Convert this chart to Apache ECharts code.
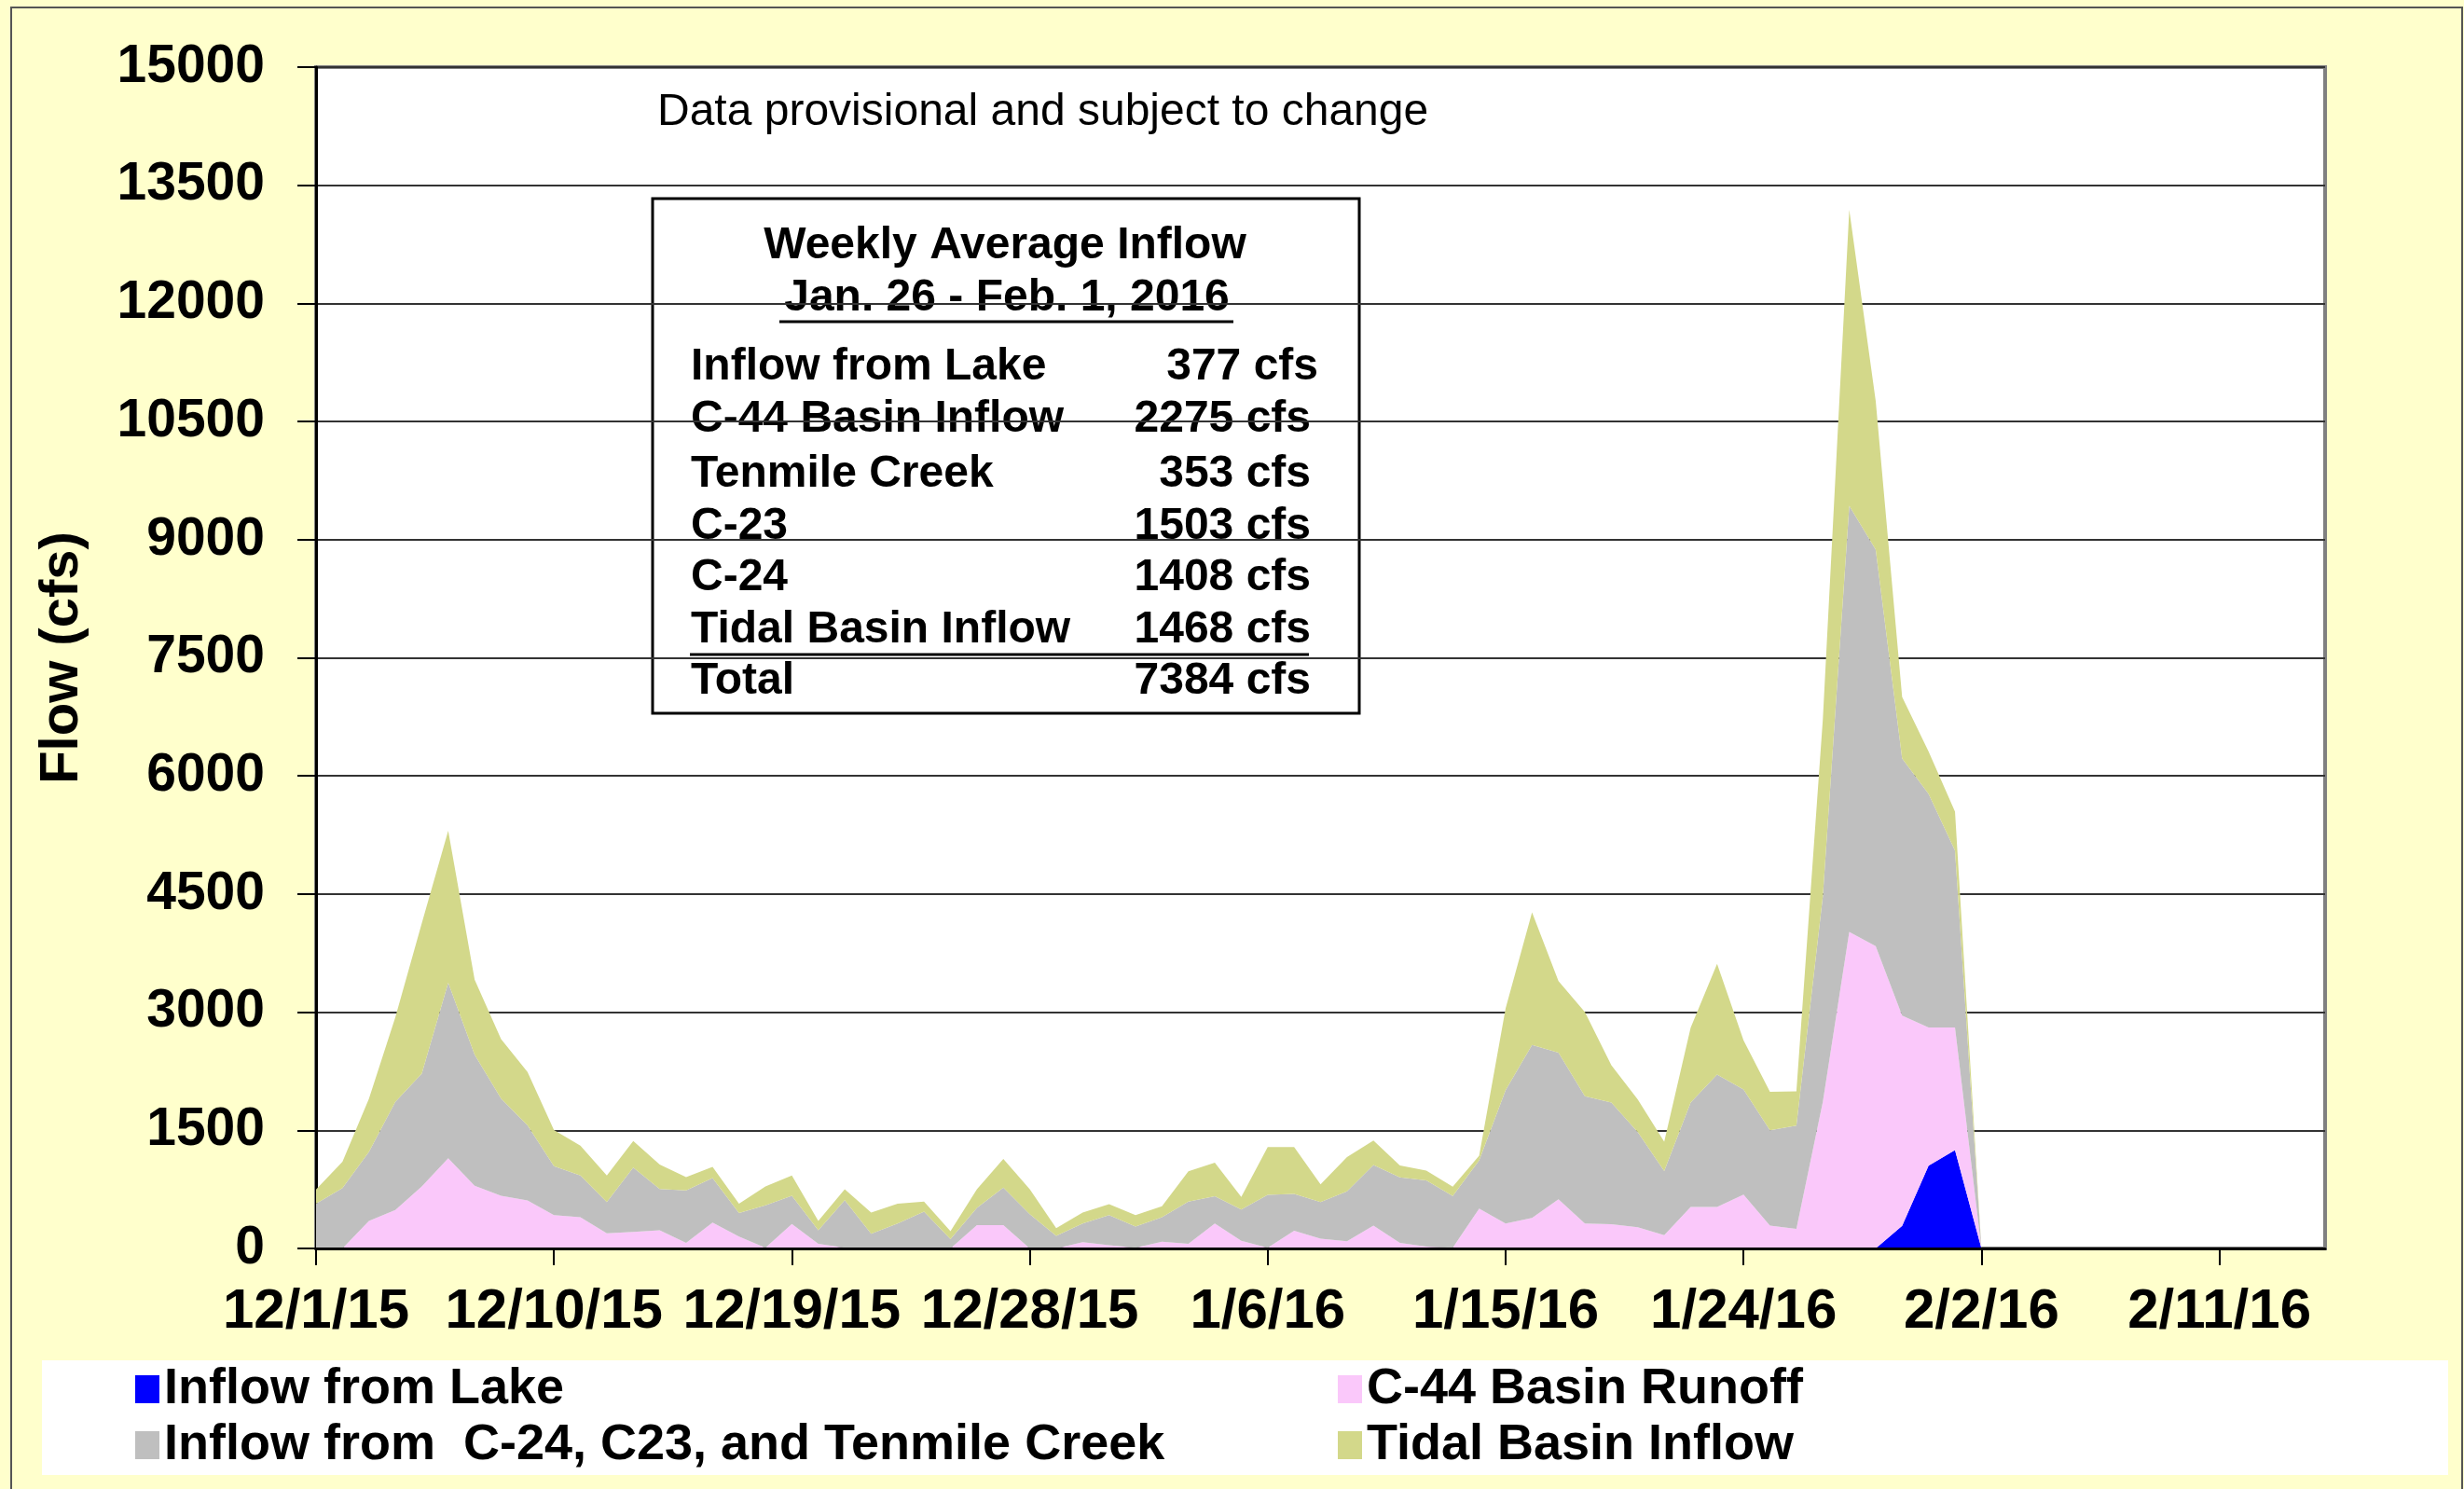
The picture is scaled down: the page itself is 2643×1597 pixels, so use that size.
<!DOCTYPE html>
<html>
<head>
<meta charset="utf-8">
<script src="https://cdn.jsdelivr.net/npm/echarts@6/dist/echarts.min.js"></script>
<style>
html,body{margin:0;padding:0;background:#FFFFCC;}
#chart{width:2643px;height:1597px;}
</style>
</head>
<body>
<div id="chart"></div>
<script>
// ---- data (daily values, 12/1/15 .. 2/2/16) ----
const startDate = '2015-12-01';
const axisDays = 77; // 12/1/15 .. 2/15/16
const seriesNames = ['Inflow from Lake', 'C-44 Basin Runoff', 'Inflow from  C-24, C23, and Tenmile Creek', 'Tidal Basin Inflow'];
const lake = [0,0,0,0,0,0,0,0,0,0, 0,0,0,0,0,0,0,0,0,0, 0,0,0,0,0,0,0,0,0,0, 0,0,0,0,0,0,0,0,0,0, 0,0,0,0,0,0,0,0,0,0, 0,0,0,0,0,0,0,0,0,0, 288,1052,1250,0];
const c44 = [0,0,350,489,788,1146,796,668,609,422, 398,191,211,231,72,330,151,10,310,60, 10,0,0,0,0,297,297,0,0,80, 40,10,87,60,317,99,10,226,125,91, 289,71,24,10,507,317,388,625,317,309, 269,170,526,526,685,289,250,1861,4019,3839, 2670,1753,1555,0];
const basins = [569,768,875,1373,1432,2228,1663,1234,955,624, 529,398,816,525,664,565,299,539,358,170, 604,186,317,468,119,218,476,436,159,237, 384,267,309,534,345,396,672,468,465,633, 772,831,839,655,613,1694,2197,1861,1615,1543, 1207,812,1326,1683,1334,1211,1310,2607,5411,5034, 3263,2967,2247,0];
const tidal = [181,332,675,1075,1910,1930,955,756,676,458, 378,338,338,310,171,140,119,239,259,120, 139,270,250,126,99,238,364,317,99,139, 139,147,139,385,428,159,606,594,225,436, 308,151,127,119,59,1039,1682,910,1068,475, 416,375,950,1405,625,490,436,2248,3758,1888, 782,539,495,0];
const colors = ['#0000FF', '#FAC8FA', '#BFBFBF', '#D3D88A'];
const tableRows = [
  ['Inflow from Lake', '377 cfs'],
  ['C-44 Basin Inflow', '2275 cfs'],
  ['Tenmile Creek', '353 cfs'],
  ['C-23', '1503 cfs'],
  ['C-24', '1408 cfs'],
  ['Tidal Basin Inflow', '1468 cfs'],
  ['Total', '7384 cfs']
];

// categories: one per day
const categories = [];
(function(){
  const d0 = new Date(startDate + 'T12:00:00Z');
  for (let i = 0; i < axisDays; i++) {
    const d = new Date(d0.getTime() + i * 86400000);
    categories.push((d.getUTCMonth() + 1) + '/' + d.getUTCDate() + '/' + String(d.getUTCFullYear()).slice(2));
  }
})();

const FONT = "'Liberation Sans', Arial, Helvetica, sans-serif";
const chart = echarts.init(document.getElementById('chart'), null, {renderer: 'canvas'});

const allSeries = [lake, c44, basins, tidal].map((arr, i) => ({
  name: seriesNames[i],
  type: 'line',
  stack: 'total',
  data: arr,
  symbol: 'none',
  showSymbol: false,
  lineStyle: {width: 0},
  itemStyle: {color: colors[i]},
  areaStyle: {color: colors[i], opacity: 1},
  z: 2
}));

const rowY = [394, 450, 509, 565, 620, 676, 731];
const tableGraphics = [];
tableRows.forEach((r, i) => {
  tableGraphics.push({type: 'text', x: 741, y: rowY[i], style: {text: r[0], font: 'bold 48px ' + FONT, fill: '#000', textAlign: 'left', textVerticalAlign: 'middle'}});
  tableGraphics.push({type: 'text', x: i === 0 ? 1414 : 1406, y: rowY[i], style: {text: r[1], font: 'bold 48px ' + FONT, fill: '#000', textAlign: 'right', textVerticalAlign: 'middle'}});
});

const option = {
  animation: false,
  backgroundColor: '#FFFFCC',
  grid: {left: 339, top: 72, right: 149, bottom: 258, show: true, backgroundColor: '#FFFFFF', borderColor: '#808080', borderWidth: 4},
  legend: [
    {orient: 'vertical', left: 140, top: 1458, itemWidth: 26, itemHeight: 30, itemGap: 6, icon: 'rect',
     data: [seriesNames[0], seriesNames[2]],
     textStyle: {fontSize: 54, fontWeight: 'bold', color: '#000', fontFamily: FONT, lineHeight: 54}},
    {orient: 'vertical', left: 1430, top: 1458, itemWidth: 26, itemHeight: 30, itemGap: 6, icon: 'rect',
     data: [seriesNames[1], seriesNames[3]],
     textStyle: {fontSize: 54, fontWeight: 'bold', color: '#000', fontFamily: FONT, lineHeight: 54}}
  ],
  xAxis: {
    type: 'category',
    data: categories,
    boundaryGap: false,
    axisLine: {show: true, lineStyle: {color: '#000', width: 3}},
    axisTick: {show: true, interval: 8, length: 18, lineStyle: {color: '#000', width: 2}},
    axisLabel: {interval: 8, margin: 38, fontSize: 60, fontWeight: 'bold', color: '#000', fontFamily: FONT},
    splitLine: {show: false},
    z: 5
  },
  yAxis: {
    type: 'value',
    min: 0, max: 15000, interval: 1500,
    name: 'Flow (cfs)',
    nameLocation: 'middle',
    nameGap: 243,
    nameTextStyle: {fontSize: 58, fontWeight: 'bold', color: '#000', fontFamily: FONT},
    axisLine: {show: true, lineStyle: {color: '#000', width: 3}},
    axisTick: {show: true, length: 20, lineStyle: {color: '#000', width: 2}},
    axisLabel: {margin: 55, fontSize: 57, fontWeight: 'bold', color: '#000', fontFamily: FONT, formatter: v => String(v)},
    splitLine: {show: true, lineStyle: {color: '#333', width: 2}},
    z: 1
  },
  series: allSeries,
  graphic: [
    {type: 'rect', z: -10, shape: {x: 12, y: 8, width: 2629, height: 1600}, style: {fill: 'none', stroke: '#555', lineWidth: 2}},
    {type: 'rect', z: -5, shape: {x: 45, y: 1459, width: 2581, height: 123}, style: {fill: '#FFFFFF'}},
    {type: 'text', z: 10, x: 705, y: 121, style: {text: 'Data provisional and subject to change', font: '48px ' + FONT, fill: '#000', textAlign: 'left', textVerticalAlign: 'middle'}},
    {type: 'group', z: 10, children: [
      {type: 'rect', shape: {x: 700, y: 213, width: 758, height: 552}, style: {fill: '#FFFFFF', stroke: '#000', lineWidth: 3}},
      {type: 'text', x: 1078, y: 264, style: {text: 'Weekly Average Inflow', font: 'bold 48px ' + FONT, fill: '#000', textAlign: 'center', textVerticalAlign: 'middle'}},
      {type: 'text', x: 1080, y: 320, style: {text: 'Jan. 26 - Feb. 1, 2016', font: 'bold 48px ' + FONT, fill: '#000', textAlign: 'center', textVerticalAlign: 'middle'}},
      {type: 'line', shape: {x1: 836, y1: 345, x2: 1323, y2: 345}, style: {stroke: '#000', lineWidth: 3}},
      {type: 'line', shape: {x1: 740, y1: 702, x2: 1404, y2: 702}, style: {stroke: '#000', lineWidth: 3}}
    ].concat(tableGraphics)}
  ]
};
chart.setOption(option);
</script>
</body>
</html>
